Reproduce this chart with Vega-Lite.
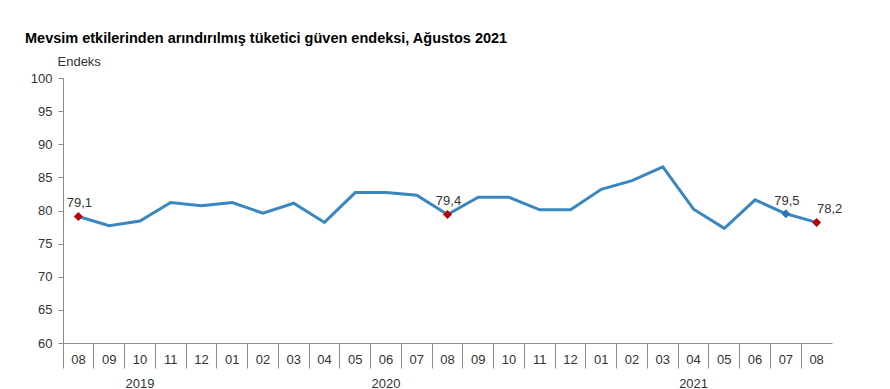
{
  "$schema": "https://vega.github.io/schema/vega-lite/v6.json",
  "autosize": "none",
  "width": 769,
  "height": 265,
  "padding": {"left": 63, "top": 78, "right": 58, "bottom": 46},
  "background": "white",
  "config": {"font": "Liberation Sans", "view": {"stroke": null}},
  "title": {
    "text": "Mevsim etkilerinden arındırılmış tüketici güven endeksi, Ağustos 2021",
    "anchor": "start",
    "frame": "group",
    "dx": -38,
    "offset": -2,
    "baseline": "alphabetic",
    "font": "Liberation Sans",
    "fontSize": 14.5,
    "fontWeight": "bold",
    "color": "#000000"
  },
  "data": {
    "values": [
      {"m": "2019-08", "v": 79.1, "lbl": "79,1"},
      {"m": "2019-09", "v": 77.7, "lbl": ""},
      {"m": "2019-10", "v": 78.4, "lbl": ""},
      {"m": "2019-11", "v": 81.2, "lbl": ""},
      {"m": "2019-12", "v": 80.7, "lbl": ""},
      {"m": "2020-01", "v": 81.2, "lbl": ""},
      {"m": "2020-02", "v": 79.6, "lbl": ""},
      {"m": "2020-03", "v": 81.1, "lbl": ""},
      {"m": "2020-04", "v": 78.2, "lbl": ""},
      {"m": "2020-05", "v": 82.7, "lbl": ""},
      {"m": "2020-06", "v": 82.7, "lbl": ""},
      {"m": "2020-07", "v": 82.3, "lbl": ""},
      {"m": "2020-08", "v": 79.4, "lbl": "79,4"},
      {"m": "2020-09", "v": 82.0, "lbl": ""},
      {"m": "2020-10", "v": 82.0, "lbl": ""},
      {"m": "2020-11", "v": 80.1, "lbl": ""},
      {"m": "2020-12", "v": 80.1, "lbl": ""},
      {"m": "2021-01", "v": 83.2, "lbl": ""},
      {"m": "2021-02", "v": 84.5, "lbl": ""},
      {"m": "2021-03", "v": 86.6, "lbl": ""},
      {"m": "2021-04", "v": 80.2, "lbl": ""},
      {"m": "2021-05", "v": 77.3, "lbl": ""},
      {"m": "2021-06", "v": 81.6, "lbl": ""},
      {"m": "2021-07", "v": 79.5, "lbl": "79,5"},
      {"m": "2021-08", "v": 78.2, "lbl": "78,2"}
    ]
  },
  "encoding": {
    "x": {
      "field": "m",
      "type": "ordinal",
      "scale": {"type": "band", "paddingInner": 0, "paddingOuter": 0},
      "axis": {
        "orient": "bottom",
        "title": null,
        "labelExpr": "datum.value == '2019-10' ? ['10', '2019'] : datum.value == '2020-06' ? ['06', '2020'] : datum.value == '2021-04' ? ['04', '2021'] : slice(datum.value, 5)",
        "labelAngle": 0,
        "labelFont": "Liberation Sans",
        "labelFontSize": 13,
        "labelColor": "#333333",
        "labelBaseline": "top",
        "labelLineHeight": 24,
        "labelPadding": -15,
        "ticks": true,
        "bandPosition": 0,
        "tickSize": 25,
        "tickColor": "#8c8c8c",
        "domainColor": "#8c8c8c"
      }
    },
    "y": {
      "field": "v",
      "type": "quantitative",
      "scale": {"domain": [60, 100], "nice": false, "zero": false},
      "axis": {
        "values": [60, 65, 70, 75, 80, 85, 90, 95, 100],
        "grid": false,
        "title": "Endeks",
        "titleAngle": 0,
        "titleAlign": "left",
        "titleBaseline": "alphabetic",
        "titleX": -6,
        "titleY": -12.5,
        "titleFont": "Liberation Sans",
        "titleFontWeight": "normal",
        "titleFontSize": 13,
        "titleColor": "#333333",
        "labelFont": "Liberation Sans",
        "labelFontSize": 13,
        "labelColor": "#333333",
        "tickSize": 5,
        "labelPadding": 6,
        "tickColor": "#8c8c8c",
        "domainColor": "#8c8c8c"
      }
    }
  },
  "layer": [
    {
      "mark": {"type": "line", "color": "#3A87C0", "strokeWidth": 3}
    },
    {
      "transform": [{"filter": "datum.lbl != ''"}],
      "mark": {"type": "point", "shape": "diamond", "filled": true, "size": 80, "opacity": 1},
      "encoding": {
        "color": {"condition": {"test": "datum.m == '2021-07'", "value": "#2E75B6"}, "value": "#C00000"}
      }
    },
    {
      "transform": [{"filter": "datum.lbl != '' && datum.m != '2021-08'"}],
      "mark": {"type": "text", "dy": -13, "dx": 1, "fontSize": 13, "font": "Liberation Sans", "color": "#333333"},
      "encoding": {"text": {"field": "lbl"}}
    },
    {
      "transform": [{"filter": "datum.m == '2021-08'"}],
      "mark": {"type": "text", "dy": -13, "dx": 13, "fontSize": 13, "font": "Liberation Sans", "color": "#333333"},
      "encoding": {"text": {"field": "lbl"}}
    }
  ]
}
